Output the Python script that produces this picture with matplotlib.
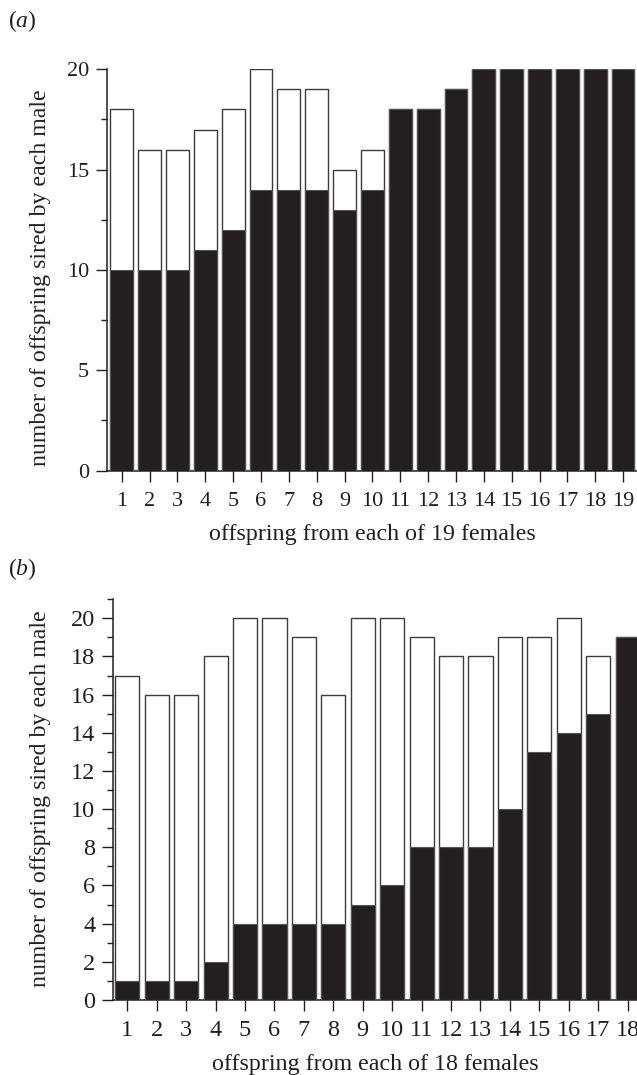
import numpy as np
import matplotlib
matplotlib.use('Agg')
import matplotlib.pyplot as plt
from matplotlib.ticker import MultipleLocator

plt.rcParams['font.family'] = ['Liberation Serif', 'DejaVu Serif']
plt.rcParams['mathtext.fontset'] = 'custom'
plt.rcParams['mathtext.rm'] = 'Liberation Serif'
plt.rcParams['mathtext.it'] = 'Liberation Serif:italic'

# panel (a): 19 females
females_a = np.arange(1, 20)
total_a = [18, 16, 16, 17, 18, 20, 19, 19, 15, 16, 18, 18, 19, 20, 20, 20, 20, 20, 20]
black_a = [10, 10, 10, 11, 12, 14, 14, 14, 13, 14, 18, 18, 19, 20, 20, 20, 20, 20, 20]

# panel (b): 18 females
females_b = np.arange(1, 19)
total_b = [17, 16, 16, 18, 20, 20, 19, 16, 20, 20, 19, 18, 18, 19, 19, 20, 18, 19]
black_b = [1, 1, 1, 2, 4, 4, 4, 4, 5, 6, 8, 8, 8, 10, 13, 14, 15, 19]

INK = '#231f20'
EDGE = '#3c3c3c'

fig = plt.figure(figsize=(6.37, 10.75), dpi=100)


def panel(ax, x, total, black, ymax, major, minor, xlim, fs, xlab, ylab_y, padx):
    ax.bar(x, total, width=0.82, color='white', edgecolor=EDGE, linewidth=1.0, zorder=2)
    ax.bar(x, black, width=0.82, color=INK, edgecolor='#555555', linewidth=0.8, zorder=3)
    ax.set_xlim(*xlim)
    ax.set_ylim(0, ymax)
    ax.set_xticks(x)
    ax.set_xticklabels([str(i) for i in x])
    ax.yaxis.set_major_locator(MultipleLocator(major))
    ax.yaxis.set_minor_locator(MultipleLocator(minor))
    for s in ['top', 'right']:
        ax.spines[s].set_visible(False)
    for s in ['left', 'bottom']:
        ax.spines[s].set_color(INK)
        ax.spines[s].set_linewidth(1.1)
    ax.tick_params(axis='y', which='major', direction='out', length=8, width=1.0,
                   color=INK, labelcolor=INK, labelsize=fs, pad=5)
    ax.tick_params(axis='y', which='minor', direction='out', length=4.5, width=1.0, color=INK)
    ax.tick_params(axis='x', which='major', direction='out', length=8, width=1.0,
                   color=INK, labelcolor=INK, labelsize=fs, pad=padx)
    ax.set_xlabel(xlab, fontsize=17.3, color=INK, labelpad=9)
    ax.set_ylabel('number of offspring sired by each male', fontsize=17.2, color=INK)
    ax.yaxis.set_label_coords(51 / 637, ylab_y, transform=fig.transFigure)


ax1 = fig.add_axes([0.1685, 0.5623, 0.8315, 0.3732])
panel(ax1, females_a, total_a, black_a, 20, 5, 2.5, (0.483, 19.5), 16,
      'offspring from each of 19 females', 1 - 278 / 1075, 7.5)

ax2 = fig.add_axes([0.1779, 0.0698, 0.8221, 0.3728])
panel(ax2, females_b, total_b, black_b, 21, 2, 1, (0.524, 18.32), 17.5,
      'offspring from each of 18 females', 1 - 799 / 1075, 6.5)

fig.text(0.012, 1 - 21 / 1075, r'($\mathit{a}$)', fontsize=17, color=INK, va='center')
fig.text(0.012, 1 - 569 / 1075, r'($\mathit{b}$)', fontsize=17, color=INK, va='center')

fig.savefig('out.png', dpi=100)
